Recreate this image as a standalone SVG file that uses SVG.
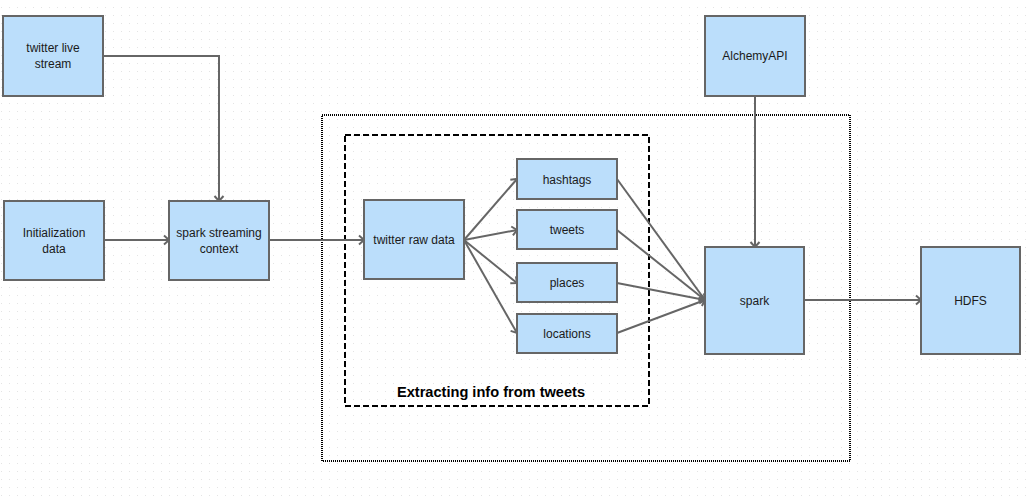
<svg xmlns="http://www.w3.org/2000/svg" width="1031" height="499" viewBox="0 0 1031 499">
<style>
.box{fill:#bbdefb;stroke:#666;stroke-width:2}
.lbl{font-family:"Liberation Sans",Arial,sans-serif;font-size:12px;fill:#1a1a1a;text-anchor:middle}
.edge{fill:none;stroke:#666;stroke-width:2}
</style>
<defs>
<pattern id="grid" x="0" y="0" width="8" height="8" patternUnits="userSpaceOnUse">
<rect x="1" y="7" width="1" height="1" fill="#e4e4e4"/>
</pattern>
<marker id="arr" markerUnits="userSpaceOnUse" markerWidth="12" markerHeight="12" viewBox="0 0 12 12" refX="7" refY="6" orient="auto">
<path d="M2,1.5 L7,6 L2,10.5" fill="none" stroke="#666" stroke-width="2"/>
</marker>
</defs>
<rect width="1031" height="499" fill="#fff"/>
<rect width="1031" height="499" fill="url(#grid)"/>

<g id="outer-container">
<rect x="322" y="115" width="528" height="346" fill="none" stroke="#000" stroke-width="2" stroke-dasharray="1 1"/>
</g>
<g id="extract-container">
<rect x="345" y="135" width="304" height="271" fill="none" stroke="#000" stroke-width="2" stroke-dasharray="6 3"/>
<text x="491" y="397" style="font-family:'Liberation Sans',Arial,sans-serif;font-size:14.6px;font-weight:bold;fill:#000;text-anchor:middle">Extracting info from tweets</text>
</g>

<g id="connectors">
<path class="edge" d="M103,56 H219 V201" marker-end="url(#arr)"/>
<path class="edge" d="M104,240 H169" marker-end="url(#arr)"/>
<path class="edge" d="M269,240 H364" marker-end="url(#arr)"/>
<path class="edge" d="M464,240 L517,179" marker-end="url(#arr)"/>
<path class="edge" d="M464,240 L517,230" marker-end="url(#arr)"/>
<path class="edge" d="M464,240 L517,283" marker-end="url(#arr)"/>
<path class="edge" d="M464,240 L517,333" marker-end="url(#arr)"/>
<path class="edge" d="M617,179 L705,300" marker-end="url(#arr)"/>
<path class="edge" d="M617,230 L705,300" marker-end="url(#arr)"/>
<path class="edge" d="M617,283 L705,300" marker-end="url(#arr)"/>
<path class="edge" d="M617,333 L705,300" marker-end="url(#arr)"/>
<path class="edge" d="M755,96 V247" marker-end="url(#arr)"/>
<path class="edge" d="M804,300 H921" marker-end="url(#arr)"/>
</g>

<g id="twitter-live-stream">
<rect class="box" x="3" y="16" width="100" height="80"/>
<text class="lbl" x="53" y="52">twitter live</text>
<text class="lbl" x="53" y="68">stream</text>
</g>
<g id="initialization-data">
<rect class="box" x="4" y="201" width="100" height="79"/>
<text class="lbl" x="54" y="237">Initialization</text>
<text class="lbl" x="54" y="253">data</text>
</g>
<g id="spark-streaming-context">
<rect class="box" x="169" y="201" width="100" height="79"/>
<text class="lbl" x="219" y="237">spark streaming</text>
<text class="lbl" x="219" y="253">context</text>
</g>
<g id="twitter-raw-data">
<rect class="box" x="364" y="200" width="100" height="79"/>
<text class="lbl" x="414" y="244">twitter raw data</text>
</g>
<g id="hashtags">
<rect class="box" x="517" y="159" width="100" height="40"/>
<text class="lbl" x="567" y="183.5">hashtags</text>
</g>
<g id="tweets">
<rect class="box" x="517" y="210" width="100" height="39"/>
<text class="lbl" x="567" y="234">tweets</text>
</g>
<g id="places">
<rect class="box" x="517" y="263" width="100" height="39"/>
<text class="lbl" x="567" y="287">places</text>
</g>
<g id="locations">
<rect class="box" x="517" y="314" width="100" height="39"/>
<text class="lbl" x="567" y="338">locations</text>
</g>
<g id="alchemyapi">
<rect class="box" x="705" y="16" width="100" height="80"/>
<text class="lbl" x="755" y="60">AlchemyAPI</text>
</g>
<g id="spark">
<rect class="box" x="705" y="247" width="99" height="107"/>
<text class="lbl" x="754.5" y="305">spark</text>
</g>
<g id="hdfs">
<rect class="box" x="921" y="247" width="99" height="107"/>
<text class="lbl" x="970.5" y="305">HDFS</text>
</g>
</svg>
